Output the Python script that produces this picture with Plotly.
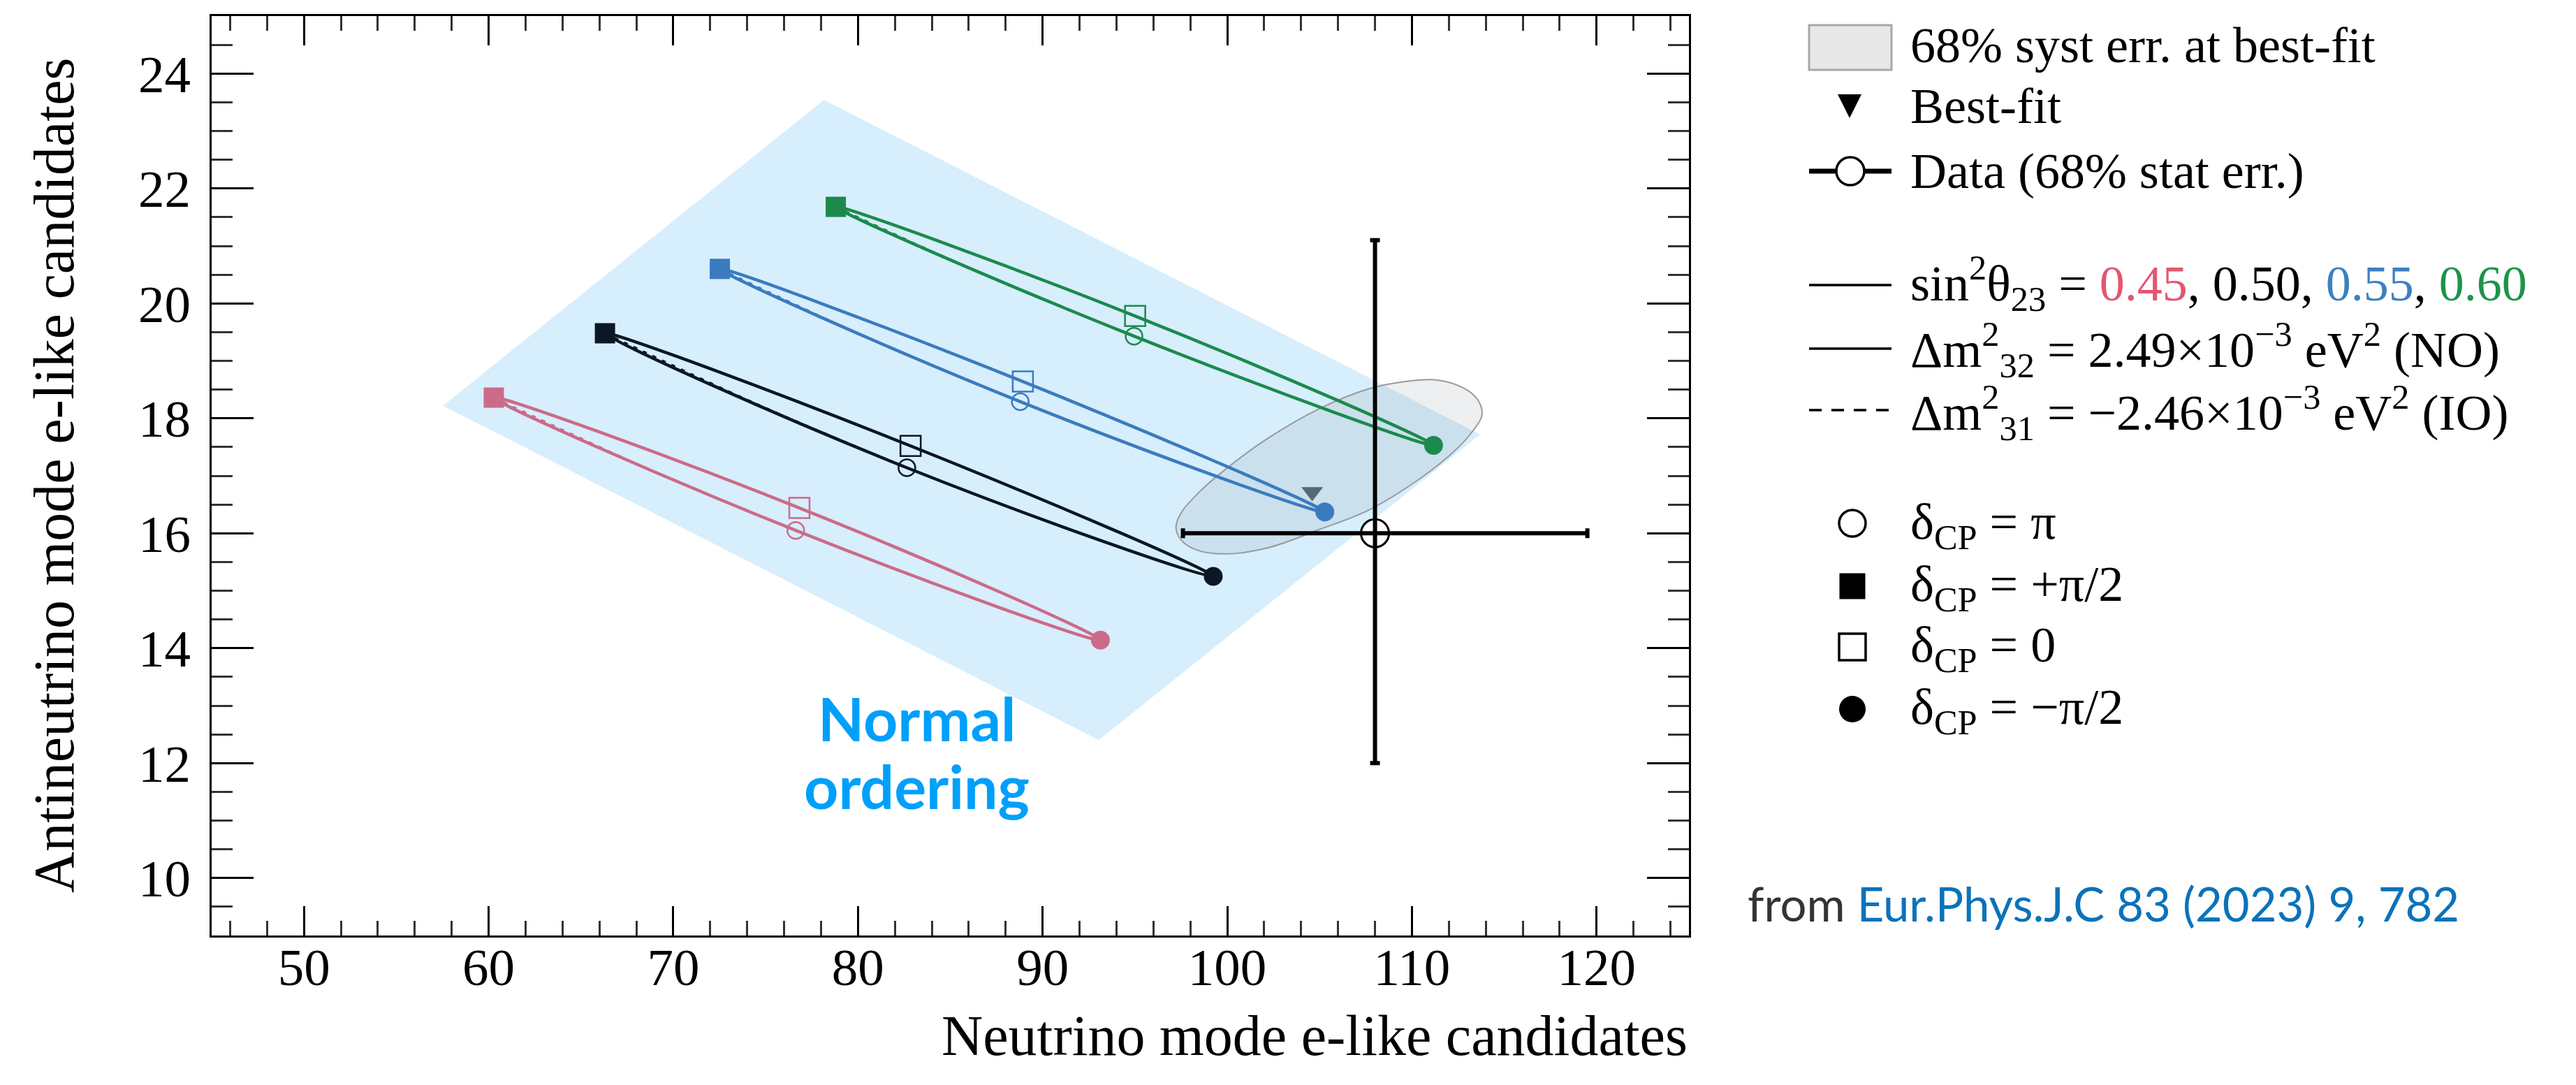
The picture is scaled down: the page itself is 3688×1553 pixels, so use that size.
import plotly.graph_objects as go

# ---------------- data ----------------
# Predicted (nu_e, nubar_e) event numbers for sin^2(theta23) values (NO)
s23_labels = ["0.45", "0.50", "0.55", "0.60"]
curve_colors = ["#cb6b88", "#0b1722", "#3a7bbf", "#1b8a4c"]

# delta_CP = +pi/2 (filled square)
dpos_x = [60.28, 66.30, 72.52, 78.80]
dpos_y = [18.36, 19.48, 20.60, 21.68]
# delta_CP = 0 (open square)
dzero_x = [76.83, 82.85, 88.93, 95.01]
dzero_y = [16.44, 17.52, 18.64, 19.78]
# delta_CP = -pi/2 (filled circle)
dneg_x = [93.13, 99.24, 105.28, 111.17]
dneg_y = [14.14, 15.25, 16.37, 17.53]
# delta_CP = pi (open circle)
dpi_x = [76.63, 82.65, 88.79, 94.95]
dpi_y = [16.05, 17.14, 18.29, 19.43]

# visible part of the inverted-ordering (dashed) contours
io_x = [[60.28, 68.5, 76.63], [66.30, 74.5, 82.65], [72.52, 80.6, 88.79], [78.80, 86.9, 94.95]]
io_y = [[18.36, 17.14, 16.05], [19.48, 18.25, 17.14], [20.60, 19.39, 18.29], [21.68, 20.49, 19.43]]

# Normal-ordering band
no_band_x = [57.53, 78.16, 113.70, 93.04, 57.53]
no_band_y = [18.22, 23.54, 17.72, 12.40, 18.22]

# 68% systematic error contour around the best fit
syst_x = [97.22, 97.51, 98.33, 99.94, 102.24, 104.94, 107.64, 110.34, 112.37, 113.32,
          113.79, 113.59, 112.78, 111.29, 109.67, 107.64, 104.94, 102.24, 100.21, 98.59, 97.51, 97.22]
syst_y = [16.10, 15.88, 15.71, 15.64, 15.75, 16.06, 16.40, 16.93, 17.45, 17.79,
          18.05, 18.31, 18.53, 18.67, 18.64, 18.51, 18.16, 17.66, 17.19, 16.75, 16.36, 16.10]

best_fit_x = [104.6]
best_fit_y = [16.72]

data_x = [108.0]
data_y = [16.0]
data_xerr_plus, data_xerr_minus = [11.5], [10.4]
data_yerr_plus, data_yerr_minus = [5.1], [4.0]

# ---------------- figure ----------------
W, H = 3688, 1553
X0, X1, Y0, Y1 = 303, 2418, 23, 1339   # plot frame in pixels
SERIF = "Liberation Serif, Times New Roman, serif"

fig = go.Figure()

fig.add_trace(go.Scatter(x=no_band_x, y=no_band_y, mode="lines", fill="toself",
                         fillcolor="#d7eefc", line=dict(width=0), hoverinfo="skip",
                         showlegend=False))

fig.add_trace(go.Scatter(x=syst_x, y=syst_y, mode="lines", fill="toself",
                         fillcolor="rgba(120,130,140,0.13)",
                         line=dict(color="#9a9a9a", width=2, shape="spline", smoothing=1.0,
                                   simplify=False),
                         hoverinfo="skip", showlegend=False))

for i in range(4):
    c = curve_colors[i]
    lx = [dpos_x[i], dpi_x[i], dneg_x[i], dzero_x[i], dpos_x[i]]
    ly = [dpos_y[i], dpi_y[i], dneg_y[i], dzero_y[i], dpos_y[i]]
    fig.add_trace(go.Scatter(x=lx, y=ly, mode="lines",
                             line=dict(color=c, width=4.5, shape="spline", smoothing=1.3,
                                       simplify=False),
                             showlegend=False, hoverinfo="skip"))
    fig.add_trace(go.Scatter(x=io_x[i], y=io_y[i], mode="lines",
                             line=dict(color=c, width=3, dash="6px,9px", shape="spline",
                                       simplify=False),
                             showlegend=False, hoverinfo="skip"))

for i in range(4):
    c = curve_colors[i]
    fig.add_trace(go.Scatter(x=[dzero_x[i]], y=[dzero_y[i]], mode="markers",
                             marker=dict(symbol="square-open", size=29, color=c,
                                         line=dict(width=2.5, color=c)),
                             showlegend=False))
    fig.add_trace(go.Scatter(x=[dpi_x[i]], y=[dpi_y[i]], mode="markers",
                             marker=dict(symbol="circle-open", size=24, color=c,
                                         line=dict(width=2.5, color=c)),
                             showlegend=False))
    fig.add_trace(go.Scatter(x=[dpos_x[i]], y=[dpos_y[i]], mode="markers",
                             marker=dict(symbol="square", size=29, color=c),
                             showlegend=False))
    fig.add_trace(go.Scatter(x=[dneg_x[i]], y=[dneg_y[i]], mode="markers",
                             marker=dict(symbol="circle", size=27, color=c),
                             showlegend=False))

fig.add_trace(go.Scatter(x=best_fit_x, y=best_fit_y, mode="markers",
                         marker=dict(symbol="triangle-down", size=27, color="#536b78"),
                         showlegend=False))

fig.add_trace(go.Scatter(
    x=data_x, y=data_y, mode="markers",
    marker=dict(symbol="circle-open", size=40, color="black", line=dict(width=3, color="black")),
    error_x=dict(type="data", symmetric=False, array=data_xerr_plus, arrayminus=data_xerr_minus,
                 color="black", thickness=6, width=7),
    error_y=dict(type="data", symmetric=False, array=data_yerr_plus, arrayminus=data_yerr_minus,
                 color="black", thickness=6, width=7),
    showlegend=False))

# ---------------- legend (drawn on a pixel-space overlay) ----------------
LX0, LX1, TX = 2590, 2708, 2733
LEG_FONT = dict(family=SERIF, size=72, color="black")

def px_trace(x, y, **kw):
    fig.add_trace(go.Scatter(x=x, y=y, xaxis="x2", yaxis="y2", showlegend=False,
                             hoverinfo="skip", **kw))

shapes = [dict(type="rect", xref="x2", yref="y2", x0=LX0, x1=LX1, y0=36, y1=100,
               fillcolor="#e8e8e8", line=dict(color="#a8a8a8", width=3)),
          dict(type="path", xref="x2", yref="y2", path="M 2631 135 L 2665 135 L 2648 169 Z",
               fillcolor="black", line=dict(width=0))]

px_trace([LX0, LX1], [245, 245], mode="lines", line=dict(color="black", width=7))
px_trace([2649], [245], mode="markers",
         marker=dict(symbol="circle", size=40, color="white", line=dict(width=3.5, color="black")))
px_trace([LX0, LX1], [408, 408], mode="lines", line=dict(color="black", width=3.5))
px_trace([LX0, LX1], [499, 499], mode="lines", line=dict(color="black", width=3.5))
px_trace([LX0, LX1], [587, 587], mode="lines", line=dict(color="black", width=3.5, dash="18px,14px"))
px_trace([2652], [749], mode="markers",
         marker=dict(symbol="circle-open", size=38, color="black", line=dict(width=3.5)))
px_trace([2652], [839], mode="markers", marker=dict(symbol="square", size=37, color="black"))
px_trace([2652], [926], mode="markers",
         marker=dict(symbol="square-open", size=38, color="black", line=dict(width=3.5)))
px_trace([2652], [1015], mode="markers", marker=dict(symbol="circle", size=38, color="black"))

legend_rows = [
    (65, "68% syst err. at best-fit"),
    (152, "Best-fit"),
    (245, "Data (68% stat err.)"),
    (405, "sin<sup>2</sup>θ<sub>23</sub> = <span style='color:#e3566f'>0.45</span>, 0.50, "
          "<span style='color:#3d7fc2'>0.55</span>, <span style='color:#1d9448'>0.60</span>"),
    (500, "Δm<sup>2</sup><sub>32</sub> = 2.49×10<sup>−3</sup> eV<sup>2</sup> (NO)"),
    (590, "Δm<sup>2</sup><sub>31</sub> = −2.46×10<sup>−3</sup> eV<sup>2</sup> (IO)"),
    (752, "δ<sub>CP</sub> = π"),
    (841, "δ<sub>CP</sub> = +π/2"),
    (928, "δ<sub>CP</sub> = 0"),
    (1017, "δ<sub>CP</sub> = −π/2"),
]

annotations = []
for y, txt in legend_rows:
    annotations.append(dict(xref="x2", yref="y2", x=TX, y=y, text=txt, showarrow=False,
                            xanchor="left", yanchor="middle", font=LEG_FONT))

# axis titles
annotations.append(dict(xref="x2", yref="y2", x=77, y=(Y0 + Y1) / 2,
                        text="Antineutrino mode e-like candidates", textangle=-90,
                        showarrow=False, xanchor="center", yanchor="middle",
                        font=dict(family=SERIF, size=82, color="black")))
annotations.append(dict(xref="x2", yref="y2", x=X1, y=1482,
                        text="Neutrino mode e-like candidates", showarrow=False,
                        xanchor="right", yanchor="middle",
                        font=dict(family=SERIF, size=82, color="black")))

# region label and citation
annotations.append(dict(xref="x2", yref="y2", x=1312, y=1027, text="<b>Normal</b>",
                        showarrow=False, xanchor="center", yanchor="middle",
                        font=dict(family="Lato", size=86, color="#00a0fa")))
annotations.append(dict(xref="x2", yref="y2", x=1312, y=1124, text="<b>ordering</b>",
                        showarrow=False, xanchor="center", yanchor="middle",
                        font=dict(family="Lato", size=86, color="#00a0fa")))
annotations.append(dict(xref="x2", yref="y2", x=2500, y=1293,
                        text="from <span style='color:#0b72b9'>Eur.Phys.J.C 83 (2023) 9, 782</span>",
                        showarrow=False, xanchor="left", yanchor="middle",
                        font=dict(family="Lato", size=67, color="#333333")))

axis_common = dict(showline=True, linecolor="black", linewidth=3, mirror="ticks",
                   ticks="inside", tickcolor="black", tickwidth=3, showgrid=False,
                   zeroline=False, automargin=False,
                   tickfont=dict(family=SERIF, size=75, color="black"))

fig.update_layout(
    width=W, height=H, template="none",
    margin=dict(l=0, r=0, t=0, b=0),
    paper_bgcolor="white", plot_bgcolor="rgba(0,0,0,0)",
    showlegend=False,
    xaxis=dict(domain=[X0 / W, X1 / W], range=[45, 125], tickmode="linear", tick0=50, dtick=10,
               ticklen=42, ticklabelstandoff=-22,
               minor=dict(ticks="inside", ticklen=21, dtick=2, tickwidth=3, tickcolor="#333",
                          showgrid=False),
               **axis_common),
    yaxis=dict(domain=[1 - Y1 / H, 1 - Y0 / H], range=[9, 25], tickmode="linear", tick0=10, dtick=2,
               ticklen=60, ticklabelstandoff=12,
               minor=dict(ticks="inside", ticklen=30, dtick=0.5, tickwidth=3, tickcolor="#333",
                          showgrid=False),
               **axis_common),
    xaxis2=dict(domain=[0, 1], range=[0, W], visible=False, fixedrange=True, anchor="y2"),
    yaxis2=dict(domain=[0, 1], range=[H, 0], visible=False, fixedrange=True, anchor="x2"),
    shapes=shapes,
    annotations=annotations,
)

fig.write_html("out.html")
